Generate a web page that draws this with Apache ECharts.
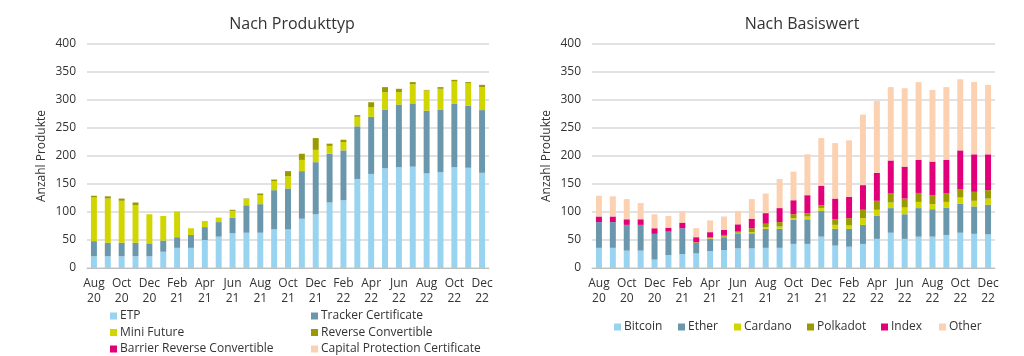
<!DOCTYPE html>
<html><head><meta charset="utf-8">
<script src="https://cdn.jsdelivr.net/npm/echarts@6/dist/echarts.min.js"></script>
<style>html,body{margin:0;padding:0;background:#fff}#c{width:1024px;height:356px}</style>
</head><body><div id="c"></div>
<script>
const categories = ['Aug\n20','Sep\n20','Oct\n20','Nov\n20','Dec\n20','Jan\n21','Feb\n21','Mar\n21','Apr\n21','May\n21','Jun\n21','Jul\n21','Aug\n21','Sep\n21','Oct\n21','Nov\n21','Dec\n21','Jan\n22','Feb\n22','Mar\n22','Apr\n22','May\n22','Jun\n22','Jul\n22','Aug\n22','Sep\n22','Oct\n22','Nov\n22','Dec\n22'];
const yTicks = [0, 50, 100, 150, 200, 250, 300, 350, 400];

// Left: Nach Produkttyp
const etp     = [21,21,21,21,21,29,36,36,50,56,62,63,63,69,69,88,96,117,121,159,168,178,180,181,169,171,180,179,170];
const tracker = [27,24,24,24,23,20,19,23,23,26,28,49,51,70,73,85,93,87,89,94,102,105,112,113,112,112,113,111,112];
const miniFut = [78,79,75,67,52,44,46,12,11,8,12,11,16,16,22,20,22,14,15,17,17,31,22,34,36,37,40,40,41];
const revConv = [3,4,4,5,0,0,0,0,0,0,2,1,3,3,9,11,21,4,4,3,9,9,6,4,1,3,3,2,3];
const barrRev = [0,0,0,0,0,0,0,0,0,0,0,0,0,0,0,0,0,0,0,0,0,0,0,0,0,0,0,0,1];
const capProt = [0,0,0,0,0,0,0,0,0,0,0,0,0,0,0,0,0,0,0,0,0,0,0,0,0,0,0,0,0];

// Right: Nach Basiswert
const bitcoin  = [36,36,31,31,15,23,25,26,30,32,35,35,36,36,43,43,56,40,38,43,52,63,52,56,56,59,63,61,60];
const ether    = [46,46,46,46,46,42,46,19,22,23,27,27,34,34,43,44,46,30,32,34,41,44,44,51,49,49,52,49,53];
const cardano  = [0,0,0,0,0,0,0,0,1,1,1,2,3,4,3,5,5,7,6,12,11,10,12,11,9,10,11,10,11];
const polkadot = [0,0,0,0,0,0,0,1,2,3,2,7,6,8,7,6,5,10,13,15,16,16,16,16,16,15,15,16,15];
const indexV   = [10,10,10,10,10,7,10,9,9,9,13,17,19,25,25,32,35,37,38,44,50,59,57,59,60,60,69,67,64];
const other    = [37,36,36,29,25,21,20,16,21,24,24,35,35,52,51,73,85,99,101,126,128,131,140,139,128,130,127,129,124];

const leftNames  = ['ETP','Tracker Certificate','Mini Future','Reverse Convertible','Barrier Reverse Convertible','Capital Protection Certificate'];
const rightNames = ['Bitcoin','Ether','Cardano','Polkadot','Index','Other'];

const colors = ['#98d3f0','#6b97ad','#d2d600','#999a00','#e2007a','#fcd1b2'];
const FONT = 'Open Sans';
const txt = '#333333';

function xAxis(gi){
  return {type:'category', gridIndex:gi, data:categories,
    axisLine:{lineStyle:{color:'#bfbfbf', width:1}},
    axisTick:{interval:1, length:4, lineStyle:{color:'#bfbfbf'}},
    axisLabel:{interval:1, color:txt, fontFamily:FONT, fontSize:12, lineHeight:15, margin:8}};
}
function yAxis(gi){
  return {type:'value', gridIndex:gi, min:yTicks[0], max:yTicks[yTicks.length-1], interval:50,
    name:'Anzahl Produkte', nameLocation:'middle', nameGap:39,
    nameTextStyle:{color:txt, fontFamily:FONT, fontSize:12},
    axisLine:{show:false}, axisTick:{show:false},
    splitLine:{lineStyle:{color:'#d9d9d9', width:1.5}},
    axisLabel:{color:txt, fontFamily:FONT, fontSize:12, margin:11}};
}
function bar(name, data, gi, ci){
  return {name, type:'bar', stack:'s'+gi, xAxisIndex:gi, yAxisIndex:gi, data,
    barWidth:'43%', itemStyle:{color:colors[ci]}, animation:false};
}
function legend(name, left, top){
  return {data:[name], left, top, padding:0, icon:'rect', itemWidth:7, itemHeight:7,
    textStyle:{color:txt, fontFamily:FONT, fontSize:12, lineHeight:14, padding:[0,0,0,-2]}};
}

const leftLegX = [110, 311], leftLegY = [309, 325.5, 342];
const rightLegX = [614, 678, 734, 807, 881, 939];
const legends = [];
leftNames.forEach((n,i)=>legends.push(legend(n, leftLegX[i%2], leftLegY[Math.floor(i/2)])));
rightNames.forEach((n,i)=>legends.push(legend(n, rightLegX[i], 320)));

const chart = echarts.init(document.getElementById('c'));
chart.setOption({
  animation:false,
  title:[
    {text:'Nach Produkttyp', left:287, top:11, textAlign:'center', textStyle:{color:txt, fontFamily:FONT, fontSize:16, fontWeight:'normal'}},
    {text:'Nach Basiswert', left:797, top:11, textAlign:'center', textStyle:{color:txt, fontFamily:FONT, fontSize:16, fontWeight:'normal'}}
  ],
  grid:[
    {left:87, top:44, width:402, height:224},
    {left:592, top:44, width:403, height:224}
  ],
  xAxis:[xAxis(0), xAxis(1)],
  yAxis:[yAxis(0), yAxis(1)],
  legend:legends,
  series:[
    bar(leftNames[0], etp, 0, 0), bar(leftNames[1], tracker, 0, 1), bar(leftNames[2], miniFut, 0, 2),
    bar(leftNames[3], revConv, 0, 3), bar(leftNames[4], barrRev, 0, 4), bar(leftNames[5], capProt, 0, 5),
    bar(rightNames[0], bitcoin, 1, 0), bar(rightNames[1], ether, 1, 1), bar(rightNames[2], cardano, 1, 2),
    bar(rightNames[3], polkadot, 1, 3), bar(rightNames[4], indexV, 1, 4), bar(rightNames[5], other, 1, 5)
  ]
});
</script></body></html>
